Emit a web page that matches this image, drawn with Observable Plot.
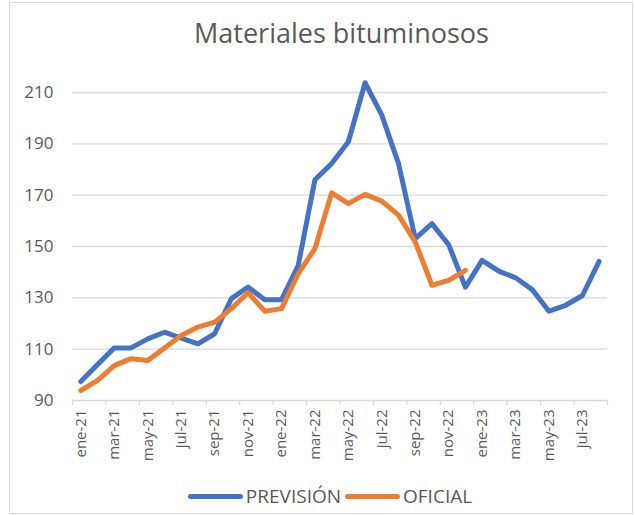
<!DOCTYPE html>
<html>
<head>
<meta charset="utf-8">
<script src="https://cdn.jsdelivr.net/npm/d3@7"></script>
<script src="https://cdn.jsdelivr.net/npm/@observablehq/plot@0.6"></script>
<style>
  html, body { margin: 0; padding: 0; background: #fff; }
  #wrap { position: relative; width: 635px; height: 515px; overflow: hidden; background: #fff; font-family: "Open Sans", sans-serif; }
  #frame { position: absolute; left: 9px; top: 2px; width: 622px; height: 510px; border: 1px solid #d9d9d9; box-sizing: content-box; }
  #title { position: absolute; left: 0; width: 683px; top: 14px; text-align: center; font-size: 27px; color: #595959; white-space: nowrap; }
  #chart { position: absolute; left: 0; top: 0; }
  #legend { position: absolute; left: 0; width: 660px; top: 483px; display: flex; justify-content: center; align-items: center; font-size: 19px; color: #595959; }
  .sw { display: inline-block; width: 55px; height: 5px; border-radius: 3px; margin-right: 3px; }
  .item { display: flex; align-items: center; margin: 0 2px; }
</style>
</head>
<body>
<div id="wrap">
  <div id="frame"></div>
  <div id="title">Materiales bituminosos</div>
  <div id="chart"></div>
  <div id="legend">
    <span class="item"><span class="sw" style="background:#4472C4"></span>PREVISIÓN</span>
    <span class="item"><span class="sw" style="background:#ED7D31"></span>OFICIAL</span>
  </div>
</div>
<script>
const months = ["ene-21","feb-21","mar-21","abr-21","may-21","jun-21","jul-21","ago-21","sep-21","oct-21","nov-21","dic-21",
  "ene-22","feb-22","mar-22","abr-22","may-22","jun-22","jul-22","ago-22","sep-22","oct-22","nov-22","dic-22",
  "ene-23","feb-23","mar-23","abr-23","may-23","jun-23","jul-23","ago-23"];
const prevision = [97.4,104,110.5,110.5,114,116.6,114.3,112.1,116,129.7,134.2,129.3,
  129.3,142.6,176,182.3,190.8,213.8,201.2,182.3,153.1,158.9,150.7,134.2,
  144.6,140.4,137.8,133.2,124.8,127.1,130.9,144.2];
const oficial = [93.9,97.8,103.6,106.3,105.6,110.5,115.3,118.6,120.5,125.8,132,124.8,
  125.8,139.4,149.2,170.9,166.7,170.3,167.7,162.2,151.8,134.9,136.8,140.7];
const yTicks = [90,110,130,150,170,190,210];

const rowsP = prevision.map((v,i) => ({i: i + 0.5, v}));
const rowsO = oficial.map((v,i) => ({i: i + 0.5, v}));
const labelPos = months.map((m,i) => i).filter(i => i % 2 === 0).map(i => i + 0.5);
const tickPos = d3.range(0, months.length + 1, 2);

const chart = Plot.plot({
  width: 635,
  height: 515,
  marginLeft: 72,
  marginRight: 28,
  marginTop: 92,
  marginBottom: 115,
  style: { fontFamily: "Open Sans, sans-serif", color: "#595959", background: "transparent", overflow: "visible" },
  x: { type: "linear", domain: [0, months.length], axis: null },
  y: { domain: [90, 210], axis: null },
  marks: [
    Plot.gridY(yTicks.filter(t => t > 90), { stroke: "#d9d9d9", strokeOpacity: 1, strokeWidth: 1.3 }),
    Plot.ruleY([90], { stroke: "#d9d9d9", strokeWidth: 1.3 }),
    Plot.axisY(yTicks, { label: null, tickSize: 0, tickPadding: 19, fontSize: 17, fill: "#595959" }),
    Plot.axisX(tickPos, { label: null, tickSize: 5, tickFormat: () => "", stroke: "#d9d9d9", strokeWidth: 1.3 }),
    Plot.axisX(labelPos, { label: null, tickSize: 0, tickPadding: 9, tickRotate: -90, fontSize: 15, fill: "#595959",
      tickFormat: d => months[Math.round(d - 0.5)] }),
    Plot.line(rowsP, { x: "i", y: "v", stroke: "#4472C4", strokeWidth: 5, strokeLinecap: "round", strokeLinejoin: "round" }),
    Plot.line(rowsO, { x: "i", y: "v", stroke: "#ED7D31", strokeWidth: 5, strokeLinecap: "round", strokeLinejoin: "round" })
  ]
});
document.getElementById("chart").appendChild(chart);
</script>
</body>
</html>
